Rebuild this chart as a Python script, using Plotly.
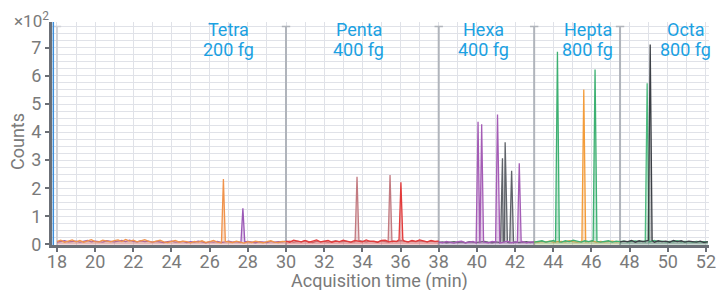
import plotly.graph_objects as go

# ---- data -------------------------------------------------------------
seg_start = [18.0, 30.0, 38.0, 43.0, 47.5]
seg_end = [30.0, 38.0, 43.0, 47.5, 52.1]
group_names = ["Tetra", "Penta", "Hexa", "Hepta", "Octa"]
group_amounts = ["200 fg", "400 fg", "400 fg", "800 fg", "800 fg"]
label_times = [27.0, 33.8, 40.35, 45.8, 50.95]

# traces listed in drawing order (later ones on top)
trace_segment = [0, 0, 1, 1, 2, 2, 3, 3, 4, 4]
trace_colors = ["#9b59b6", "#f0924b", "#c27a80", "#e23b3b", "#5f6369",
                "#a45cb5", "#f39c3a", "#3db072", "#4cbb7f", "#3c4046"]
peak_times = [[27.74], [26.72], [33.72, 35.45], [36.02],
              [41.34, 41.48, 41.82], [40.06, 40.25, 41.08, 42.22],
              [45.60], [44.22, 46.19], [48.92], [49.08]]
peak_heights = [[129], [233], [241, 247], [221],
                [307, 364, 262], [437, 428, 463, 289],
                [552], [686, 623], [574], [712]]

noise_tetra_b = [8, 11, 13, 9, 10, 12, 8, 11, 14, 9, 12, 10, 8, 13, 11, 9, 12, 14, 10, 15,
                 11, 9, 13, 10, 12, 8, 11, 9, 7, 10, 12, 8, 9, 11, 7, 10, 8, 12, 9, 6,
                 10, 8, 11, 7, 9, 12, 8, 10, 7, 9, 11, 8, 6, 10, 9, 7, 11, 8, 10, 9, 12]
noise_tetra_a = [11, 15, 8, 12, 16, 9, 14, 8, 12, 17, 10, 9, 15, 12, 9, 14, 16, 10, 18, 12,
                 15, 9, 13, 17, 11, 8, 12, 15, 9, 7, 11, 14, 8, 12, 10, 6, 11, 8, 13, 7,
                 10, 14, 8, 6, 11, 10, 7, 12, 9, 5, 10, 7, 12, 9, 6, 10, 13, 8, 7, 11, 10]
noise_penta_a = [10, 12, 8, 11, 9, 13, 10, 7, 12, 9, 11, 8, 10, 13, 9, 11, 12, 8, 10, 14,
                 11, 9, 12, 10, 8, 13, 11, 9, 12, 10, 14, 11, 9, 12, 10, 13, 11, 9, 12, 10, 11]
noise_penta_b = [12, 8, 15, 11, 9, 14, 8, 12, 16, 9, 11, 14, 8, 12, 10, 15, 11, 8, 14, 12,
                 9, 16, 11, 12, 8, 14, 15, 9, 12, 11, 17, 12, 9, 14, 11, 16, 12, 9, 14, 11, 12]
noise_hexa_b = [7, 9, 6, 8, 10, 7, 9, 6, 10, 8, 7, 9, 11, 8, 6, 9, 7, 10, 8, 6, 9, 7, 8, 10, 7, 9]
noise_hexa_a = [9, 6, 11, 8, 5, 10, 12, 6, 8, 11, 5, 9, 8, 6, 11, 9, 5, 8, 12, 6, 9, 8, 11, 6, 9, 8]
noise_hepta_b = [10, 8, 11, 9, 12, 8, 10, 11, 9, 13, 10, 8, 11, 9, 10, 12, 8, 11, 9, 10, 12, 9, 11]
noise_hepta_a = [8, 11, 13, 8, 12, 14, 9, 8, 13, 10, 15, 11, 8, 13, 10, 14, 11, 8, 10, 13, 8, 12, 10]
noise_octa_a = [10, 12, 9, 11, 13, 10, 12, 9, 11, 14, 10, 12, 9, 11, 10, 13, 9, 11, 10, 8, 11, 9, 10, 8]
noise_octa_b = [9, 12, 10, 14, 8, 13, 10, 11, 14, 8, 13, 10, 12, 8, 14, 10, 13, 8, 12, 10, 8, 12, 7, 10]

baseline_noise = [noise_tetra_b, noise_tetra_a, noise_penta_a, noise_penta_b,
                  noise_hexa_b, noise_hexa_a, noise_hepta_b, noise_hepta_a,
                  noise_octa_a, noise_octa_b]

y_tick_vals = [0, 100, 200, 300, 400, 500, 600, 700]
y_tick_text = ["0", "1", "2", "3", "4", "5", "6", "7"]
x_tick_vals = [18, 20, 22, 24, 26, 28, 30, 32, 34, 36, 38, 40, 42, 44, 46, 48, 50, 52]

# ---- figure -----------------------------------------------------------
PEAK_HW = 0.1
LABEL_BLUE = "#1ba1e2"
AXIS_GREY = "#6b6f76"
TEXT_GREY = "#7a7a7a"
GRID = "#e0e2e8"
FS = 18


def rgba(hex_color, a):
    h = hex_color.lstrip("#")
    r, g, b = int(h[0:2], 16), int(h[2:4], 16), int(h[4:6], 16)
    return f"rgba({r},{g},{b},{a})"


fig = go.Figure()

# segment boundary markers
for k, t in enumerate(seg_start):
    col = "#cfd2d8" if k == 0 else "#b0b4bb"
    fig.add_trace(go.Scatter(x=[t, t], y=[-2, 776], mode="lines",
                             line=dict(color=col, width=2), hoverinfo="skip"))
    fig.add_trace(go.Scatter(x=[t], y=[776], mode="markers",
                             marker=dict(symbol="line-ew-open", size=6, color=col,
                                         line=dict(color=col, width=1.5)),
                             hoverinfo="skip"))

for i in range(len(trace_segment)):
    s = trace_segment[i]
    a, b = seg_start[s], seg_end[s]
    noise = baseline_noise[i]
    n = len(noise)
    ts = [a + (b - a) * k / (n - 1) for k in range(n)]
    pts = [(t, v) for t, v in zip(ts, noise)
           if all(abs(t - p) > PEAK_HW for p in peak_times[i])]
    for p, h in zip(peak_times[i], peak_heights[i]):
        j = min(range(n), key=lambda q: abs(ts[q] - p))
        base = noise[j]
        pts += [(p - PEAK_HW, base), (p, h), (p + PEAK_HW, base)]
    pts.sort()
    fig.add_trace(go.Scatter(
        x=[q[0] for q in pts], y=[q[1] for q in pts], mode="lines",
        line=dict(color=trace_colors[i], width=1.3),
        fill="tozeroy", fillcolor=rgba(trace_colors[i], 0.3),
        hoverinfo="skip"))

for name, amt, t in zip(group_names, group_amounts, label_times):
    fig.add_annotation(x=t, y=765, xref="x", yref="y", text=name,
                       showarrow=False, font=dict(color=LABEL_BLUE, size=FS),
                       xanchor="center", yanchor="middle")
    fig.add_annotation(x=t, y=694, xref="x", yref="y", text=amt,
                       showarrow=False, font=dict(color=LABEL_BLUE, size=FS),
                       xanchor="center", yanchor="middle")

fig.add_annotation(x=0, y=1.0, xref="paper", yref="paper", text="×10<sup>2</sup>",
                   showarrow=False, xanchor="right", yanchor="middle",
                   font=dict(color=TEXT_GREY, size=FS - 1), xshift=-1, yshift=2)

fig.add_annotation(x=0, y=0.462, xref="paper", yref="paper", text="Counts",
                   showarrow=False, textangle=-90, xanchor="center", yanchor="middle",
                   xshift=-34, font=dict(color=TEXT_GREY, size=FS))

fig.add_annotation(x=0.4985, y=-0.163, xref="paper", yref="paper",
                   text="Acquisition time (min)", showarrow=False,
                   xanchor="center", yanchor="middle",
                   font=dict(color=TEXT_GREY, size=FS))

fig.add_shape(type="line", xref="paper", yref="paper", x0=0.002, x1=0.002, y0=0, y1=1,
              line=dict(color="#3d8fdc", width=1.5))

fig.update_layout(
    width=716, height=290,
    margin=dict(l=52, r=7, t=22, b=45),
    plot_bgcolor="white", paper_bgcolor="white",
    showlegend=False,
    font=dict(family="Roboto", color=TEXT_GREY, size=FS),
)
fig.update_xaxes(
    range=[17.74, 52.16], tickvals=x_tick_vals,
    showgrid=True, gridcolor=GRID, gridwidth=1,
    minor=dict(dtick=1, showgrid=True, gridcolor=GRID, gridwidth=1),
    showline=True, linecolor=AXIS_GREY, linewidth=3,
    ticks="outside", ticklen=4, tickcolor=AXIS_GREY, tickwidth=1.5,
    zeroline=False, automargin=False,
    ticklabelstandoff=-6, ticklabeloverflow="allow",
    tickfont=dict(size=FS),
)
fig.update_yaxes(
    range=[-2, 792], tickvals=y_tick_vals, ticktext=y_tick_text,
    showgrid=True, gridcolor=GRID, gridwidth=1,
    minor=dict(dtick=25, showgrid=True, gridcolor=GRID, gridwidth=1),
    showline=True, linecolor=AXIS_GREY, linewidth=3,
    ticks="outside", ticklen=4, tickcolor=AXIS_GREY, tickwidth=1.5,
    zeroline=False, automargin=False,
    tickfont=dict(size=FS),
)

fig.write_html("out.html", config={"displayModeBar": False},
               post_script="document.body.style.margin='0px';document.body.style.overflow='hidden';")
